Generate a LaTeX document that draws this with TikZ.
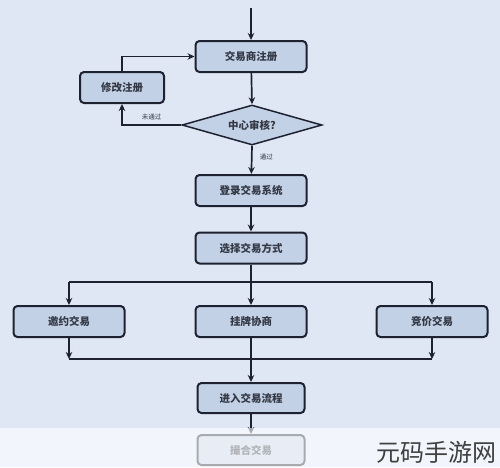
\documentclass[tikz,border=0pt]{standalone}
\usepackage{fontspec}
\setmainfont{Noto Sans CJK SC}
\newfontfamily\cjk{Noto Sans CJK SC}
\usetikzlibrary{arrows.meta,shapes.geometric}
\definecolor{bgblue}{HTML}{DFE7F5}
\definecolor{boxfill}{HTML}{C3D1E7}
\definecolor{boxline}{HTML}{1E2230}
\definecolor{txt}{HTML}{333844}
\begin{document}
\begin{tikzpicture}[x=1pt,y=-1pt,
  stepbox/.style={draw=boxline,fill=boxfill,line width=2pt,rounded corners=4pt,
    minimum width=111pt,minimum height=31pt,inner sep=0pt,
    font=\cjk\fontsize{10.5}{12}\selectfont\bfseries,text=txt},
  decbox/.style={draw=boxline,fill=boxfill,line width=1.5pt,diamond,aspect=3.5,
    minimum width=140pt,minimum height=40pt,inner sep=0pt,
    font=\cjk\fontsize{10.5}{12}\selectfont\bfseries,text=txt},
  conn/.style={draw=boxline,line width=1.7pt},
  arr/.style={conn,-{Stealth[length=7pt,width=6.5pt]}},
  lbl/.style={font=\cjk\fontsize{6.5}{7}\selectfont,text=txt}]
\useasboundingbox (0,0) rectangle (500,467);
\fill[bgblue] (0,0) rectangle (500,467);
% nodes
\coordinate (start) at (251,8);
\node[stepbox] (reg) at (251,56.5) {交易商注册};
\node[stepbox,minimum width=84pt] (mod) at (122,87.5) {修改注册};
\node[decbox] (chk) at (252,125) {中心审核?};
\node[stepbox] (login) at (251,190.5) {登录交易系统};
\node[stepbox] (sel) at (251,248) {选择交易方式};
\node[stepbox] (inv) at (69,321.5) {邀约交易};
\node[stepbox] (list) at (251,321.5) {挂牌协商};
\node[stepbox] (bid) at (432,321.5) {竞价交易};
\node[stepbox,minimum width=107pt,minimum height=30pt] (enter) at (251,398) {进入交易流程};
\node[stepbox,minimum width=107pt,minimum height=30pt] (match) at (251,450) {撮合交易};
\coordinate (split) at (251,282);
\coordinate (splitL) at (69,282);
\coordinate (splitR) at (432,282);
\coordinate (joinL) at (69,359);
\coordinate (joinR) at (432,359);
% connectors
\draw[arr] (start) -- (reg);
\draw[arr] (mod.north) |- (reg.west);
\draw[arr] (reg) -- (chk.north);
\draw[arr] (chk.west) -| node[lbl,pos=0.25,above=1pt]{未通过} (mod.south);
\draw[arr] (chk.south) -- node[lbl,pos=0.4,right=4pt]{通过} (login);
\draw[arr] (login) -- (sel);
\draw[conn] (sel.south) -- (split);
\draw[conn] (splitL) -- (splitR);
\draw[arr] (split) -- (list.north);
\draw[arr] (splitL) -- (inv.north);
\draw[arr] (splitR) -- (bid.north);
\draw[arr] (inv.south) -- (joinL);
\draw[arr] (bid.south) -- (joinR);
\draw[conn] (joinL) -- (joinR);
\draw[arr] (list.south) -- (enter.north);
\draw[arr] (enter.south) -- (match.north);
% faded bottom strip
\fill[white,opacity=0.62] (0,428) rectangle (500,467);
\node[font=\cjk\fontsize{24}{26}\selectfont,text=black!75,anchor=east] (wm) at (500,452) {元码手游网};
\end{tikzpicture}
\end{document}
